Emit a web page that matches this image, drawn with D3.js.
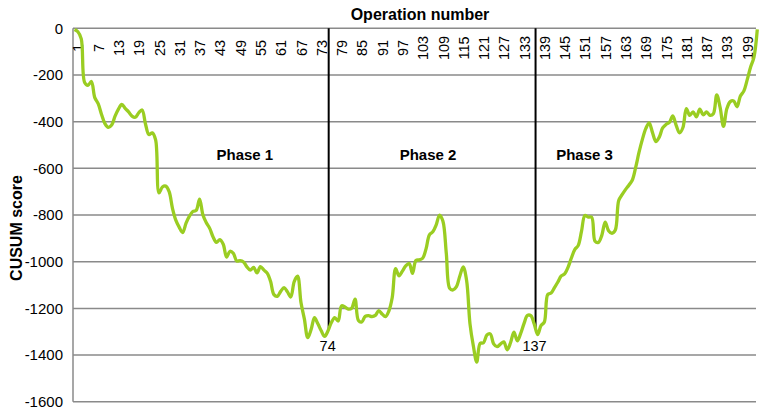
<!DOCTYPE html>
<html><head><meta charset="utf-8">
<script src="https://cdn.jsdelivr.net/npm/d3@7/dist/d3.min.js"></script>
<style>
html,body{margin:0;padding:0;background:#fff;}
svg{display:block;font-family:"Liberation Sans",Arial,Helvetica,sans-serif;}
</style>
</head><body>
<svg id="chart" width="767" height="412"></svg>
<script>
// CUSUM score for each operation (index 0 .. 202)
const cusumScores = [
  -5, -15, -45, -232, -244, -228, -297, -323, -369, -408,
  -424, -414, -376, -346, -326, -343, -358, -376, -381, -362,
  -350, -410, -455, -448, -478, -705, -680, -676, -700, -772,
  -823, -853, -875, -835, -805, -785, -780, -732, -800, -833,
  -857, -894, -917, -905, -925, -980, -955, -964, -997, -995,
  -1001, -1022, -1036, -1024, -1048, -1021, -1035, -1049, -1084, -1141,
  -1148, -1127, -1111, -1129, -1151, -1085, -1062, -1175, -1245, -1325,
  -1290, -1240, -1266, -1296, -1320, -1296, -1260, -1239, -1254, -1189,
  -1194, -1203, -1199, -1160, -1252, -1258, -1234, -1231, -1235, -1230,
  -1209, -1224, -1235, -1211, -1153, -1030, -1060, -1040, -1018, -1007,
  -1050, -995, -992, -985, -945, -885, -872, -842, -800, -827,
  -965, -1114, -1121, -1107, -1061, -1022, -1080, -1266, -1361, -1430,
  -1350, -1347, -1314, -1309, -1352, -1364, -1353, -1343, -1377, -1347,
  -1302, -1339, -1307, -1264, -1230, -1231, -1266, -1312, -1274, -1258,
  -1140, -1134, -1111, -1087, -1061, -1052, -1024, -984, -948, -931,
  -869, -802, -809, -809, -912, -917, -887, -830, -867, -878,
  -864, -738, -713, -691, -672, -651, -597, -532, -476, -430,
  -405, -447, -485, -466, -427, -412, -403, -375, -416, -448,
  -425, -344, -373, -358, -379, -346, -371, -358, -373, -366,
  -285, -339, -420, -344, -314, -311, -336, -290, -269, -221,
  -167, -125, -5
];
const xTickLabels = [1, 7, 13, 19, 25, 31, 37, 43, 49, 55, 61, 67, 73, 79, 85, 91, 97,
  103, 109, 115, 121, 127, 133, 139, 145, 151, 157, 163, 169, 175, 181, 187, 193, 199];
const yTickValues = [0, -200, -400, -600, -800, -1000, -1200, -1400, -1600];
const phaseNames = ["Phase 1", "Phase 2", "Phase 3"];
const phaseLabelOps = [50.4, 104.6, 150.9];
const phaseLabelScore = -566;
const boundaryOps = [75.2, 136.4];
const boundaryLabels = ["74", "137"];
const boundaryLabelScore = -1384;

const svg = d3.select("#chart");
const plotLeft = 73, plotRight = 756;
const x = d3.scaleLinear().domain([0, cusumScores.length - 1]).range([74.5, 757.3]);
const y = d3.scaleLinear().domain([-1600, 0]).range([401.8, 28.3]);
const gridColor = "#8a8a8a";

// gridlines
svg.append("g").selectAll("line").data(yTickValues).join("line")
  .attr("x1", plotLeft).attr("x2", plotRight)
  .attr("y1", d => y(d)).attr("y2", d => y(d))
  .attr("stroke", gridColor).attr("stroke-width", 1.5);

// left axis line
svg.append("line")
  .attr("x1", plotLeft).attr("x2", plotLeft)
  .attr("y1", y(0)).attr("y2", y(-1600))
  .attr("stroke", gridColor).attr("stroke-width", 1.5);

// y axis labels
const yAxis = d3.axisLeft(y).tickValues(yTickValues).tickSize(0).tickPadding(10).tickFormat(d => String(d));
const yg = svg.append("g").attr("transform", `translate(${plotLeft},0)`).call(yAxis);
yg.select(".domain").remove();
yg.selectAll("text").attr("font-size", 15).attr("fill", "#000")
  .attr("font-family", '"Liberation Sans",Arial,sans-serif');

// x tick labels (rotated, along top)
svg.append("g").selectAll("text").data(xTickLabels).join("text")
  .attr("transform", d => `translate(${x(d) + 0.5},48) rotate(-90)`)
  .attr("text-anchor", "middle")
  .attr("dy", "0.35em")
  .attr("font-size", 14.5)
  .attr("fill", "#000")
  .text(d => d);

// titles
svg.append("text").attr("x", 420).attr("y", 20).attr("text-anchor", "middle")
  .attr("font-size", 16).attr("font-weight", "bold").text("Operation number");
svg.append("text").attr("transform", "translate(16.5,228) rotate(-90)")
  .attr("text-anchor", "middle").attr("dy", "0.35em")
  .attr("font-size", 16).attr("font-weight", "bold").text("CUSUM score");

// phase labels
svg.append("g").selectAll("text").data(phaseNames).join("text")
  .attr("x", (d, i) => x(phaseLabelOps[i]))
  .attr("y", y(phaseLabelScore))
  .attr("text-anchor", "middle")
  .attr("font-size", 15).attr("font-weight", "bold")
  .text(d => d);

// boundary lines
function scoreAt(op) {
  const i = Math.floor(op), t = op - i;
  return cusumScores[i] * (1 - t) + cusumScores[i + 1] * t;
}
svg.append("g").selectAll("line").data(boundaryOps).join("line")
  .attr("x1", d => x(d)).attr("x2", d => x(d))
  .attr("y1", y(0)).attr("y2", d => y(scoreAt(d)))
  .attr("stroke", "#000").attr("stroke-width", 2);

// CUSUM line
const line = d3.line()
  .x((d, i) => x(i))
  .y(d => y(d))
  .curve(d3.curveCatmullRom.alpha(0.5));
svg.append("path").datum(cusumScores)
  .attr("d", line)
  .attr("fill", "none")
  .attr("stroke", "#9acd22")
  .attr("stroke-width", 3.3)
  .attr("stroke-linejoin", "round");

// boundary labels
svg.append("g").selectAll("text").data(boundaryLabels).join("text")
  .attr("x", (d, i) => x(boundaryOps[i]) - 1)
  .attr("y", y(boundaryLabelScore))
  .attr("text-anchor", "middle")
  .attr("font-size", 14.5)
  .attr("fill", "#000")
  .text(d => d);
</script>
</body></html>
